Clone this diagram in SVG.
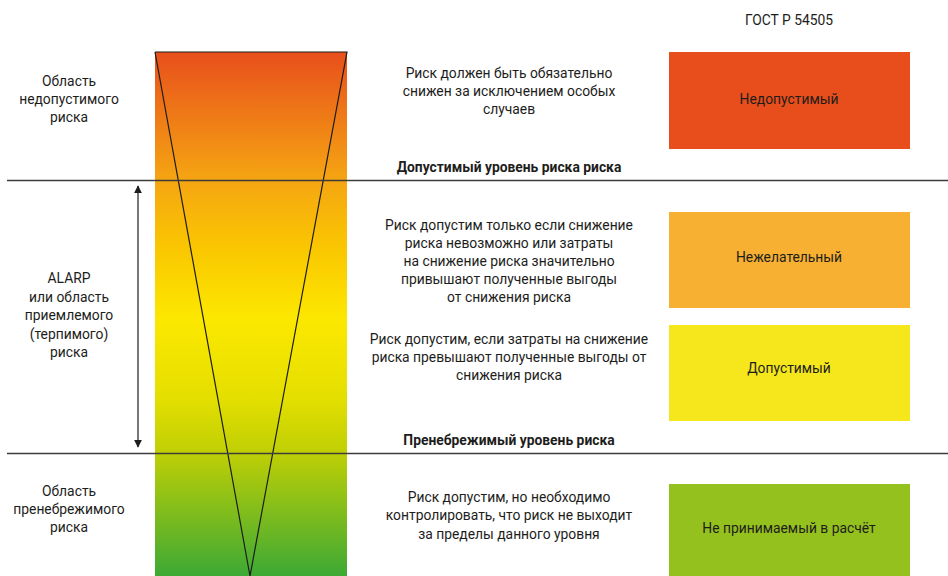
<svg xmlns="http://www.w3.org/2000/svg" width="948" height="576" viewBox="0 0 948 576">
  <style>
    text { font-family: Roboto, "Noto Sans", "Liberation Sans", sans-serif; font-size: 13.85px; fill: #1d1d1b; text-anchor: middle; }
    .b { font-weight: bold; }
    .rule { stroke: #3c3c3b; stroke-width: 1.3; fill: none; }
    .thin { stroke: #1d1d1b; stroke-width: 1.2; fill: none; }
  </style>
  <defs>
    <linearGradient id="riskGrad" x1="0" y1="52" x2="0" y2="576" gradientUnits="userSpaceOnUse">
      <stop offset="0" stop-color="#E84F1C"/>
      <stop offset="0.244" stop-color="#F5A512"/>
      <stop offset="0.38" stop-color="#FAC800"/>
      <stop offset="0.51" stop-color="#FCE800"/>
      <stop offset="0.66" stop-color="#E4DF00"/>
      <stop offset="0.765" stop-color="#BFCF05"/>
      <stop offset="1" stop-color="#3DA935"/>
    </linearGradient>
    <marker id="ah" viewBox="0 0 10 10" refX="9" refY="5" markerWidth="8" markerHeight="8" orient="auto-start-reverse" markerUnits="userSpaceOnUse">
      <path d="M0,0 L10,5 L0,10 Z" fill="#1d1d1b"/>
    </marker>
  </defs>

  <!-- risk scale bar with funnel -->
  <g id="scale">
    <rect x="155" y="52" width="192" height="524" fill="url(#riskGrad)"/>
    <polyline class="thin" points="155,52 347,52 250,576 155,52"/>
  </g>

  <!-- level boundaries and ALARP span -->
  <g id="connectors">
    <line class="rule" x1="7" y1="180.5" x2="948" y2="180.5"/>
    <line class="rule" x1="7" y1="453.5" x2="948" y2="453.5"/>
    <line class="thin" x1="138" y1="186" x2="138" y2="447" marker-start="url(#ah)" marker-end="url(#ah)"/>
  </g>

  <g id="header"><text x="789" y="25">ГОСТ Р 54505</text></g>

  <!-- left region labels -->
  <g id="region-unacceptable">
    <text x="69" y="86">Область</text>
    <text x="69" y="104">недопустимого</text>
    <text x="69" y="122">риска</text>
  </g>
  <g id="region-alarp">
    <text x="69" y="283">ALARP</text>
    <text x="69" y="302">или область</text>
    <text x="69" y="320">приемлемого</text>
    <text x="69" y="339">(терпимого)</text>
    <text x="69" y="357">риска</text>
  </g>
  <g id="region-negligible">
    <text x="69" y="496">Область</text>
    <text x="69" y="514">пренебрежимого</text>
    <text x="69" y="532">риска</text>
  </g>

  <!-- descriptions -->
  <g id="desc-1">
    <text x="509" y="78">Риск должен быть обязательно</text>
    <text x="509" y="96">снижен за исключением особых</text>
    <text x="509" y="114">случаев</text>
  </g>
  <g id="level-acceptable"><text class="b" x="509" y="172">Допустимый уровень риска риска</text></g>
  <g id="desc-2">
    <text x="509" y="230">Риск допустим только если снижение</text>
    <text x="509" y="248">риска невозможно или затраты</text>
    <text x="509" y="266">на снижение риска значительно</text>
    <text x="509" y="284">привышают полученные выгоды</text>
    <text x="509" y="302">от снижения риска</text>
  </g>
  <g id="desc-3">
    <text x="509" y="344">Риск допустим, если затраты на снижение</text>
    <text x="509" y="362">риска превышают полученные выгоды от</text>
    <text x="509" y="380">снижения риска</text>
  </g>
  <g id="level-negligible"><text class="b" x="509" y="445">Пренебрежимый уровень риска</text></g>
  <g id="desc-4">
    <text x="509" y="502">Риск допустим, но необходимо</text>
    <text x="509" y="520">контролировать, что риск не выходит</text>
    <text x="509" y="539">за пределы данного уровня</text>
  </g>

  <!-- GOST categories -->
  <g id="cat-unacceptable">
    <rect x="669" y="52" width="241" height="97" fill="#E84E1B"/>
    <text x="789" y="104">Недопустимый</text>
  </g>
  <g id="cat-undesirable">
    <rect x="669" y="212" width="241" height="96" fill="#F7B032"/>
    <text x="789" y="262">Нежелательный</text>
  </g>
  <g id="cat-acceptable">
    <rect x="669" y="325" width="241" height="96" fill="#F6E71C"/>
    <text x="789" y="373">Допустимый</text>
  </g>
  <g id="cat-negligible">
    <rect x="669" y="484" width="241" height="92" fill="#95C11F"/>
    <text x="789" y="533">Не принимаемый в расчёт</text>
  </g>
</svg>
